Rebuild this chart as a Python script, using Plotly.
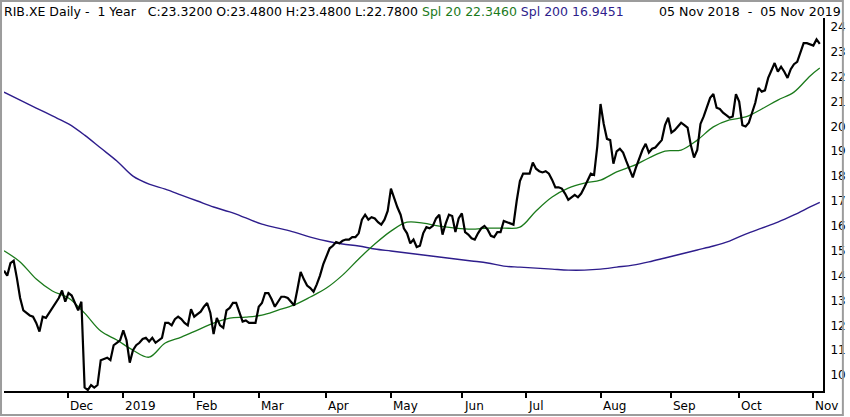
import pandas as pd
import plotly.graph_objects as go

# Xetra holidays inside the window (weekends are removed by rangebreaks)
holidays = ["2018-12-24", "2018-12-25", "2018-12-26", "2018-12-31",
            "2019-01-01", "2019-04-19", "2019-04-22", "2019-05-01"]

# daily closes, one per trading day
close = [
    # Nov 2018
    14.2, 14.0, 14.5, 14.6, 13.9, 13.1, 12.6, 12.5, 12.4, 12.35,
    12.1, 11.75, 12.35, 12.3, 12.5, 12.7, 12.9, 13.1, 13.4, 12.95,
    # Dec
    13.3, 13.2, 12.9, 12.6, 12.95, 9.5, 9.4, 9.6, 9.5, 9.6,
    10.6, 10.65, 10.7, 10.6, 11.2, 11.3, 11.4,
    # Jan 2019
    11.8, 11.4, 10.5, 11.0, 11.2, 11.3, 11.45, 11.5, 11.35, 11.5,
    11.3, 11.4, 11.5, 12.1, 12.1, 12.0, 12.25, 12.35, 12.25, 12.1,
    12.0, 12.65,
    # Feb
    12.35, 12.45, 12.55, 12.75, 12.9, 12.5, 11.65, 12.3, 12.0, 11.9,
    12.6, 12.7, 12.9, 12.9, 12.5, 12.15, 12.2, 12.1, 12.1, 12.1,
    # Mar
    12.75, 12.9, 13.3, 13.3, 13.05, 12.75, 12.95, 13.15, 13.15, 13.1,
    12.95, 12.8, 13.45, 14.15, 13.85, 13.6, 13.5, 13.35, 13.65, 14.0,
    14.45,
    # Apr
    14.75, 15.1, 15.2, 15.35, 15.3, 15.4, 15.45, 15.45, 15.55, 15.55,
    15.7, 16.25, 16.45, 16.25, 16.35, 16.3, 16.15, 16.05, 16.25, 16.6,
    # May
    17.5, 17.1, 16.75, 16.45, 15.9, 15.7, 15.3, 15.45, 15.15, 15.2,
    15.7, 15.95, 15.9, 16.0, 16.3, 16.45, 15.65, 16.1, 16.45, 16.4,
    15.75, 16.3,
    # Jun
    16.5, 15.75, 15.65, 15.5, 15.45, 15.7, 15.9, 16.0, 15.85, 15.6,
    15.55, 15.75, 15.75, 16.2, 16.15, 16.1, 16.05, 17.0, 17.8, 18.1,
    # Jul
    18.1, 18.1, 18.55, 18.3, 18.2, 18.15, 18.2, 18.1, 17.85, 17.55,
    17.55, 17.5, 17.3, 17.05, 17.15, 17.25, 17.15, 17.3, 17.55, 17.85,
    18.1, 18.05, 19.2,
    # Aug
    20.9, 20.1, 19.5, 19.45, 18.5, 19.0, 19.1, 18.95, 18.6, 18.3,
    17.95, 18.35, 18.7, 19.05, 19.3, 18.95, 19.1, 19.15, 19.3, 19.45,
    20.05, 20.35,
    # Sep
    19.75, 19.85, 20.0, 20.15, 20.05, 19.95, 19.25, 18.75, 19.05, 20.1,
    20.4, 20.8, 21.15, 21.3, 20.75, 20.7, 20.55, 20.45, 20.35, 20.4,
    21.3,
    # Oct
    21.0, 20.05, 20.0, 20.15, 20.55, 20.95, 21.55, 21.4, 21.45, 21.95,
    22.25, 22.55, 22.2, 22.4, 22.2, 21.95, 22.3, 22.5, 22.6, 23.0,
    23.35, 23.35, 23.3,
    # Nov
    23.25, 23.5, 23.32,
]

# moving averages, sampled every 5th trading day plus the last one
spl20 = [15.0, 14.55, 13.86, 13.38, 13.1, 12.49, 11.77, 11.41, 11.0, 10.72,
         11.29, 11.53, 11.81, 12.09, 12.29, 12.33, 12.41, 12.61, 12.82, 13.14,
         13.5, 14.02, 14.67, 15.27, 15.79, 16.15, 16.11, 15.99, 15.91, 15.87,
         15.91, 15.91, 15.95, 16.6, 17.16, 17.52, 17.72, 17.84, 18.17, 18.41,
         18.73, 19.01, 19.05, 19.45, 19.98, 20.26, 20.38, 20.7, 21.06, 21.38,
         22.03, 22.346]
spl200 = [21.38, 21.06, 20.74, 20.42, 20.1, 19.65, 19.13, 18.61, 18.0, 17.68,
          17.48, 17.24, 17.0, 16.76, 16.56, 16.32, 16.07, 15.91, 15.75, 15.55,
          15.39, 15.27, 15.19, 15.07, 14.99, 14.91, 14.83, 14.75, 14.67, 14.59,
          14.51, 14.38, 14.34, 14.3, 14.26, 14.22, 14.22, 14.26, 14.34, 14.42,
          14.55, 14.71, 14.87, 15.03, 15.19, 15.39, 15.67, 15.91, 16.15, 16.44,
          16.76, 16.9451]

month_ticks = ["2018-12-03", "2019-01-02", "2019-02-01", "2019-03-01", "2019-04-01",
               "2019-05-02", "2019-06-03", "2019-07-01", "2019-08-01", "2019-09-02",
               "2019-10-01", "2019-11-01"]
month_labels = ["Dec", "2019", "Feb", "Mar", "Apr", "May", "Jun", "Jul", "Aug",
                "Sep", "Oct", "Nov"]
y_ticks = list(range(10, 25))

dates = pd.bdate_range("2018-11-05", "2019-11-05")
dates = dates[~dates.isin(pd.to_datetime(holidays))]
assert len(dates) == len(close), (len(dates), len(close))
ma_dates = list(dates[::5]) + [dates[-1]]
assert len(ma_dates) == len(spl20) == len(spl200)

GREEN = "#1b7a1b"
PURPLE = "#2e1d8c"
FONT = "DejaVu Sans"

fig = go.Figure()
fig.add_trace(go.Scatter(x=ma_dates, y=spl200, mode="lines",
                         line=dict(color=PURPLE, width=1.4, shape="spline")))
fig.add_trace(go.Scatter(x=ma_dates, y=spl20, mode="lines",
                         line=dict(color=GREEN, width=1.3, shape="spline")))
fig.add_trace(go.Scatter(x=dates, y=close, mode="lines",
                         line=dict(color="black", width=2.2)))

# margins in px so the plot box sits where the reference has it
L, R, T, B = 4, 22, 18, 26
W, H = 850 - L - R, 417 - T - B

sp = "\u00a0"
header = (f"RIB.XE Daily -{sp}{sp}1 Year{sp}{sp}{sp}C:23.3200 O:23.4800 H:23.4800 L:22.7800 "
          f"<span style='color:{GREEN}'>Spl 20 22.3460</span> "
          f"<span style='color:{PURPLE}'>Spl 200 16.9451</span>")
annotations = [
    dict(text=header, xref="paper", yref="paper", x=-2 / W, y=1 + 6 / H,
         xanchor="left", yanchor="middle", showarrow=False,
         font=dict(family=FONT, size=12.5, color="black")),
    dict(text=f"05 Nov 2018{sp}{sp}-{sp}{sp}05 Nov 2019", xref="paper", yref="paper",
         x=(848 - L) / W, y=1 + 6 / H, xanchor="right", yanchor="middle",
         showarrow=False, font=dict(family=FONT, size=12.6, color="black")),
]
for d, lab in zip(month_ticks, month_labels):
    annotations.append(dict(text=lab, x=d, xref="x", yref="paper", y=0,
                            yshift=-15, xanchor="left", yanchor="middle",
                            showarrow=False,
                            font=dict(family=FONT, size=12, color="black")))

fig.update_layout(
    width=850, height=417,
    margin=dict(l=L, r=R, t=T, b=B),
    paper_bgcolor="white", plot_bgcolor="white",
    showlegend=False,
    annotations=annotations,
    shapes=[dict(type="rect", xref="paper", yref="paper",
                 x0=-3 / W, x1=(848 - L) / W, y0=-(415 - 391) / H, y1=(391 - 1) / H,
                 line=dict(color="#9c9c9c", width=2))],
    xaxis=dict(
        type="date",
        range=["2018-11-05", "2019-11-06"],
        rangebreaks=[dict(bounds=["sat", "mon"]), dict(values=holidays)],
        tickvals=month_ticks, showticklabels=False,
        ticks="outside", ticklen=5, tickwidth=2, tickcolor="black",
        showline=True, linecolor="black", linewidth=2,
        showgrid=False, zeroline=False,
    ),
    yaxis=dict(
        side="right", range=[9.36, 24.36],
        tickvals=y_ticks, ticks="", ticklabelstandoff=3,
        showline=True, linecolor="black", linewidth=2,
        showgrid=False, zeroline=False,
        tickfont=dict(family=FONT, size=12, color="black"),
    ),
)

# drop the page's default body margin so the figure sits at the window's corner
fig.write_html("out.html", config={"displayModeBar": False},
               post_script="document.body.style.margin='0';document.body.style.overflow='hidden';")
